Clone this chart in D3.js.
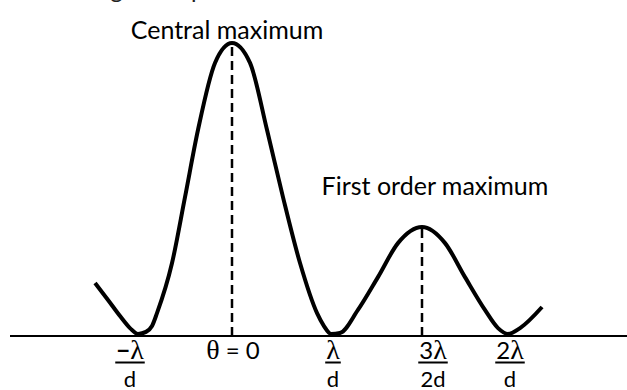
<!DOCTYPE html>
<html>
<head>
<meta charset="utf-8">
<script src="https://cdn.jsdelivr.net/npm/d3@7"></script>
<style>
  html, body { margin: 0; padding: 0; background: #fff; }
  svg { display: block; }
</style>
</head>
<body>
<svg id="chart" width="627" height="390"></svg>
<script>
// Intensity pattern across the screen: phase in units of λ/d
const phase = [
  -1.457, -1.319, -1.191, -1.085, -1.0, -0.915, -0.851, -0.798,
  -0.638, -0.5, -0.362, -0.181, 0.0, 0.182, 0.354, 0.515, 0.687,
  0.859, 0.929, 1.0, 1.049, 1.148, 1.258, 1.368, 1.5, 1.634, 1.75,
  1.866, 1.942, 2.0, 2.07, 2.198
];
const intensity = [
  0.181, 0.123, 0.068, 0.027, 0.007, 0.014, 0.034, 0.078,
  0.249, 0.474, 0.703, 0.932, 1.0, 0.932, 0.703, 0.474, 0.249,
  0.078, 0.034, 0.007, 0.010, 0.089, 0.201, 0.317, 0.372, 0.317, 0.201,
  0.089, 0.027, 0.007, 0.027, 0.099
];

// Axis ticks (phase values) and their fraction labels
const tickValues = [-1, 0, 1, 1.5, 2];
const tickNumerators = ["−λ", "θ = 0", "λ", "3λ", "2λ"];
const tickDenominators = ["d", "", "d", "2d", "d"];

// Maxima that get a dashed guide and a caption
const peakPhase = [0, 1.5];
const peakIntensity = [1.0, 0.372];
const peakLabels = ["Central maximum", "First order maximum"];

const svg = d3.select("#chart");

// Hand-spaced horizontal axis: piecewise-linear between the labelled positions
const x = d3.scaleLinear()
  .domain(tickValues)
  .range([138, 232, 331, 422, 508]);
const y = d3.scaleLinear().domain([0, 1]).range([336, 43]);

const labelFont = "Lato, 'Open Sans', sans-serif";
const greekFont = "'Liberation Serif', 'DejaVu Serif', serif";

// Running text line above the diagram (only its lowest strokes fall inside)
svg.append("text")
  .attr("x", 44)
  .attr("y", -2)
  .attr("font-family", labelFont)
  .attr("font-size", 24)
  .attr("fill", "#222")
  .text("the angular separation between the central maximum and the first order maximum");

// Baseline
svg.append("line")
  .attr("x1", 10).attr("x2", 627)
  .attr("y1", y(0)).attr("y2", y(0))
  .attr("stroke", "#000")
  .attr("stroke-width", 1.8);

// Dashed guides from each maximum down to the baseline
const peakGap = [4, 2];
svg.selectAll("line.guide")
  .data(peakPhase)
  .join("line")
  .attr("class", "guide")
  .attr("x1", d => x(d)).attr("x2", d => x(d))
  .attr("y1", (d, i) => y(peakIntensity[i]) + peakGap[i])
  .attr("y2", y(0))
  .attr("stroke", "#000")
  .attr("stroke-width", 2.5)
  .attr("stroke-dasharray", "9,5");

// Intensity curve
const pts = phase.map((p, i) => [p, intensity[i]]);
svg.append("path")
  .datum(pts)
  .attr("d", d3.line()
    .x(d => x(d[0]))
    .y(d => y(d[1]))
    .curve(d3.curveMonotoneX))
  .attr("fill", "none")
  .attr("stroke", "#000")
  .attr("stroke-width", 4)
  .attr("stroke-linejoin", "round")
  .attr("stroke-linecap", "butt");

// Captions above the maxima
const captionOffset = [[-5, -4], [13, -32]];
svg.selectAll("text.caption")
  .data(peakLabels)
  .join("text")
  .attr("class", "caption")
  .attr("x", (d, i) => x(peakPhase[i]) + captionOffset[i][0])
  .attr("y", (d, i) => y(peakIntensity[i]) + captionOffset[i][1])
  .attr("text-anchor", "middle")
  .attr("font-family", labelFont)
  .attr("font-size", 25)
  .attr("fill", "#000")
  .text(d => d);

// Fraction tick labels: numerator, rule, denominator
const labelNudge = [-8, 1, 2, 11, 2];
const ticks = svg.selectAll("g.tick")
  .data(tickValues)
  .join("g")
  .attr("class", "tick")
  .attr("transform", (d, i) => `translate(${x(d) + labelNudge[i]},0)`);

ticks.each(function (d, i) {
  const g = d3.select(this);
  const num = g.append("text")
    .attr("y", 359)
    .attr("text-anchor", "middle")
    .attr("font-size", 24)
    .attr("fill", "#000");
  // split numerator so Greek letters use the serif face
  const parts = tickNumerators[i].split(/([λθ])/).filter(s => s.length);
  parts.forEach(s => {
    const greek = /[λθ]/.test(s);
    num.append("tspan")
      .attr("font-family", greek ? greekFont : labelFont)
      .attr("font-size", greek ? 28 : 24)
      .attr("font-weight", s === "−" ? "bold" : null)
      .text(s);
  });
  if (tickDenominators[i]) {
    const w = num.node().getComputedTextLength();
    g.append("line")
      .attr("x1", -w / 2 - 1).attr("x2", w / 2 + 1)
      .attr("y1", 362.5).attr("y2", 362.5)
      .attr("stroke", "#000")
      .attr("stroke-width", 2);
    g.append("text")
      .attr("y", 387)
      .attr("text-anchor", "middle")
      .attr("font-family", labelFont)
      .attr("font-size", 22)
      .attr("fill", "#000")
      .text(tickDenominators[i]);
  }
});
</script>
</body>
</html>
